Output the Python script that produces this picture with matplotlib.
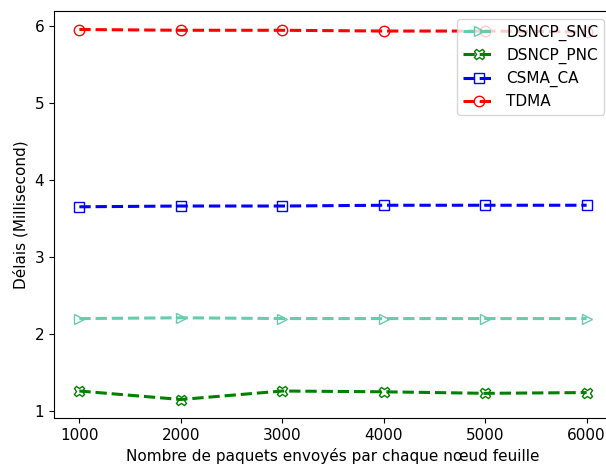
import matplotlib.pyplot as plt

paquets = [1000, 2000, 3000, 4000, 5000, 6000]
dsncp_snc = [2.20, 2.21, 2.20, 2.20, 2.20, 2.20]
dsncp_pnc = [1.26, 1.15, 1.26, 1.25, 1.23, 1.24]
csma_ca = [3.65, 3.66, 3.66, 3.67, 3.67, 3.67]
tdma = [5.95, 5.94, 5.94, 5.93, 5.93, 5.92]

plt.rcParams["font.size"] = 11

fig = plt.figure(figsize=(6.06, 4.68), dpi=100)
# the original picture is cut at the right edge, so the axes run past it
ax = fig.add_axes([54 / 606, 50 / 468, 558 / 606, 407 / 468])

ax.plot(paquets, dsncp_snc, "--", marker=">", color="mediumaquamarine",
        fillstyle="none", markersize=7.5, linewidth=2.2, label="DSNCP_SNC")
ax.plot(paquets, dsncp_pnc, "--", marker="X", color="green",
        fillstyle="none", markersize=7.5, linewidth=2.2, label="DSNCP_PNC")
ax.plot(paquets, csma_ca, "--", marker="s", color="blue",
        fillstyle="none", markersize=7.5, linewidth=2.2, label="CSMA_CA")
ax.plot(paquets, tdma, "--", marker="o", color="red",
        fillstyle="none", markersize=7.5, linewidth=2.2, label="TDMA")

ax.set_xlabel("Nombre de paquets envoyés par chaque nœud feuille")
ax.set_ylabel("Délais (Millisecond)")
ax.legend(loc="upper right", labelspacing=0.45)

plt.savefig("out.png")
